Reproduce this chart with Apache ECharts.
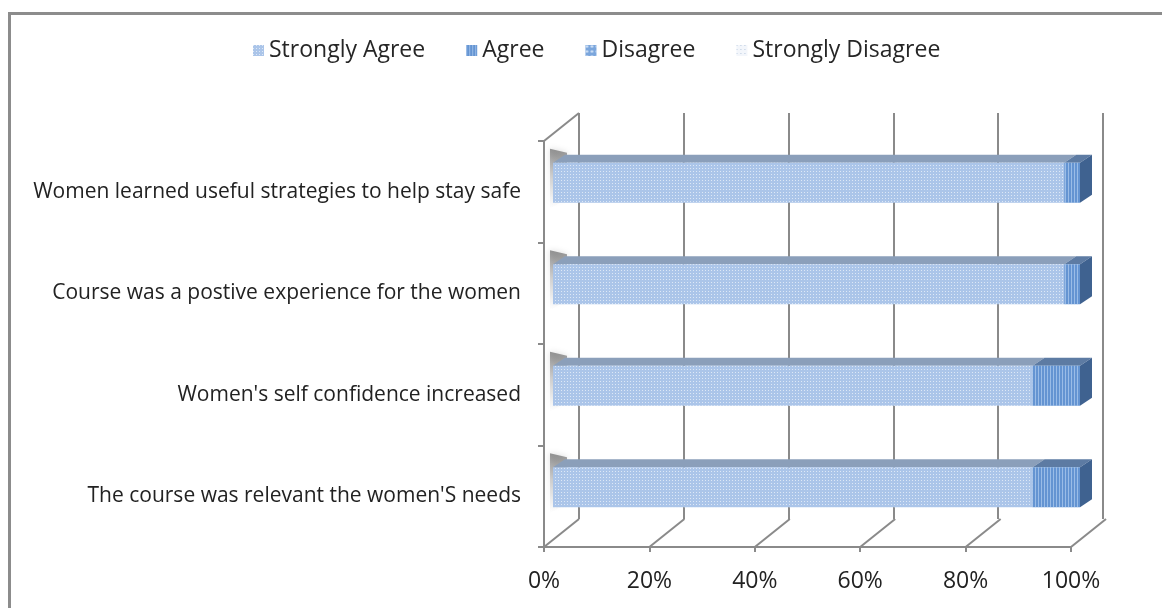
<!DOCTYPE html>
<html>
<head>
<meta charset="utf-8">
<script src="https://cdn.jsdelivr.net/npm/echarts@6/dist/echarts.min.js"></script>
<style>
  html, body { margin: 0; padding: 0; background: #fff; }
  #chart { position: absolute; left: 0; top: 0; width: 1162px; height: 608px; }
  #frame { position: absolute; left: 8px; top: 12px; width: 1160px; height: 600px;
           border-top: 3px solid #8c8c8c; border-left: 3px solid #8c8c8c; pointer-events: none; }
</style>
</head>
<body>
<div id="chart"></div>
<div id="frame"></div>
<script>
// ---- data ----
const categories = [
  "Women learned useful strategies to help stay safe",
  "Course was a postive experience for the women",
  "Women's self confidence increased",
  "The course was relevant the women'S needs"
];
const seriesNames = ["Strongly Agree", "Agree", "Disagree", "Strongly Disagree"];
const stronglyAgree = [97, 97, 91, 91];
const agree = [3, 3, 9, 9];
const disagree = [0, 0, 0, 0];
const stronglyDisagree = [0, 0, 0, 0];
const xTickValues = [0, 20, 40, 60, 80, 100];

// ---- style ----
const FONT = "'Open Sans', sans-serif";
const GRID_LINE = '#8a8a8a';
const BAR_W = 40;
const BAR_DX = 12, BAR_DY = -8;     // bar depth offset
const WALL_DX = 35, WALL_DY = -28;  // chart depth offset
const frontColors = ['#abc5e9', '#6494d2', '#7ba6dc', '#f3f6fb'];
const topColors = ['#8b9fba', '#5d7ba3', '#6c8cb8', '#d8dee8'];
const sideColors = ['#7f95b3', '#3f6290', '#50729f', '#c8d0dc'];
const decals = [
  { symbol: 'rect', symbolSize: 1, dashArrayX: [1, 2], dashArrayY: [1, 2], color: 'rgba(255,255,255,0.6)' },
  { symbol: 'rect', symbolSize: 1, dashArrayX: [1, 2], dashArrayY: [1, 0], color: 'rgba(190,215,245,0.6)' },
  { symbol: 'circle', symbolSize: 0.9, dashArrayX: [3, 2], dashArrayY: [3, 2], color: 'rgba(230,240,252,0.8)' },
  { symbol: 'rect', symbolSize: 1, dashArrayX: [1, 3], dashArrayY: [1, 3], color: 'rgba(170,190,215,0.8)' }
];
const valueArrays = [stronglyAgree, agree, disagree, stronglyDisagree];

const chart = echarts.init(document.getElementById('chart'), null, { renderer: 'canvas' });

const barSeries = seriesNames.map((name, k) => ({
  name: name,
  type: 'bar',
  stack: 'total',
  xAxisIndex: 2, yAxisIndex: 2,
  barWidth: BAR_W,
  silent: true,
  itemStyle: { color: frontColors[k], decal: decals[k] },
  data: valueArrays[k]
}));

const barData = categories.map((c, i) => [i, stronglyAgree[i], agree[i], disagree[i], stronglyDisagree[i]]);

const barShadow = {
  type: 'custom',
  xAxisIndex: 2, yAxisIndex: 2,
  silent: true,
  encode: { y: 0, x: 1 },
  data: barData,
  renderItem: function (params, api) {
    const i = api.value(0);
    const p = api.coord([0, i]);
    const x0 = p[0], top = p[1] - BAR_W / 2, bottom = p[1] + BAR_W / 2;
    return {
      type: 'polygon',
      shape: { points: [[x0 - 3, top - 14], [x0 + 14, top - 10], [x0 + 14, bottom - 4], [x0 - 3, bottom + 6]] },
      style: {
        fill: new echarts.graphic.LinearGradient(0, 0, 0, 1, [
          { offset: 0, color: 'rgba(80,80,80,0.6)' },
          { offset: 0.45, color: 'rgba(120,120,120,0.3)' },
          { offset: 1, color: 'rgba(150,150,150,0)' }]),
        shadowBlur: 6, shadowColor: 'rgba(100,100,100,0.4)'
      }
    };
  }
};

const bar3d = {
  type: 'custom',
  xAxisIndex: 2, yAxisIndex: 2,
  silent: true,
  encode: { y: 0, x: 1 },
  data: barData,
  renderItem: function (params, api) {
    const i = api.value(0);
    const vals = [api.value(1), api.value(2), api.value(3), api.value(4)];
    const yc = api.coord([0, i])[1];
    const top = yc - BAR_W / 2, bottom = yc + BAR_W / 2;
    const children = [];
    let cum = 0, last = 0;
    vals.forEach((v, k) => {
      if (v > 0) {
        const a = api.coord([cum, i])[0];
        const b = api.coord([cum + v, i])[0];
        children.push({
          type: 'polygon',
          shape: { points: [[a, top], [b, top], [b + BAR_DX, top + BAR_DY], [a + BAR_DX, top + BAR_DY]] },
          style: { fill: topColors[k] }
        });
        last = k;
      }
      cum += v;
    });
    const xe = api.coord([cum, i])[0];
    children.push({
      type: 'polygon',
      shape: { points: [[xe, top], [xe + BAR_DX, top + BAR_DY], [xe + BAR_DX, bottom + BAR_DY], [xe, bottom]] },
      style: { fill: sideColors[last] }
    });
    return { type: 'group', children: children };
  }
};

const wallLines = {
  type: 'custom',
  xAxisIndex: 1, yAxisIndex: 1,
  silent: true,
  encode: { x: 0, y: 1 },
  data: xTickValues.map(v => [v, 0]),
  renderItem: function (params, api) {
    const x = api.coord([api.value(0), 0])[0];
    const cs = params.coordSys;
    const bottom = cs.y + cs.height;
    const children = [{
      type: 'line',
      shape: { x1: x, y1: bottom, x2: x + WALL_DX, y2: bottom + WALL_DY },
      style: { stroke: GRID_LINE, lineWidth: 2 }
    }];
    if (params.dataIndex === 0) {
      children.push({
        type: 'line',
        shape: { x1: x, y1: cs.y, x2: x + WALL_DX, y2: cs.y + WALL_DY },
        style: { stroke: GRID_LINE, lineWidth: 2 }
      });
    }
    return { type: 'group', children: children };
  }
};

const option = {
  backgroundColor: '#ffffff',
  animation: false,
  textStyle: { fontFamily: FONT },
  legend: {
    data: seriesNames,
    left: 248, top: 34,
    icon: 'rect',
    itemWidth: 11, itemHeight: 11,
    itemGap: 41,
    textStyle: { fontSize: 23, color: '#262626', fontFamily: FONT }
  },
  grid: [
    { left: 579, top: 113, width: 524, height: 406 },   // back wall
    { left: 544, top: 141, width: 527, height: 406 },   // front axes
    { left: 553, top: 132, width: 527, height: 406 }    // bars
  ],
  xAxis: [
    { gridIndex: 0, type: 'value', min: 0, max: 100, interval: 20,
      axisLine: { show: false }, axisTick: { show: false }, axisLabel: { show: false },
      splitLine: { show: true, lineStyle: { color: GRID_LINE, width: 2 } } },
    { gridIndex: 1, type: 'value', min: 0, max: 100, interval: 20,
      axisLine: { show: true, lineStyle: { color: GRID_LINE, width: 2 } },
      axisTick: { show: true, length: 5, lineStyle: { color: GRID_LINE, width: 2 } },
      axisLabel: { formatter: '{value}%', fontSize: 23, color: '#222', margin: 23, fontFamily: FONT },
      splitLine: { show: false } },
    { gridIndex: 2, type: 'value', min: 0, max: 100, show: false, splitLine: { show: false } }
  ],
  yAxis: [
    { gridIndex: 0, type: 'category', data: categories, inverse: true, show: false },
    { gridIndex: 1, type: 'category', data: categories, inverse: true,
      axisLine: { show: true, lineStyle: { color: GRID_LINE, width: 2 } },
      axisTick: { show: true, length: 6, lineStyle: { color: GRID_LINE, width: 2 } },
      axisLabel: { fontSize: 21, color: '#222', margin: 23, fontFamily: FONT },
      splitLine: { show: false } },
    { gridIndex: 2, type: 'category', data: categories, inverse: true, show: false }
  ],
  series: [wallLines, barShadow].concat(barSeries).concat([bar3d])
};
chart.setOption(option);
</script>
</body>
</html>
